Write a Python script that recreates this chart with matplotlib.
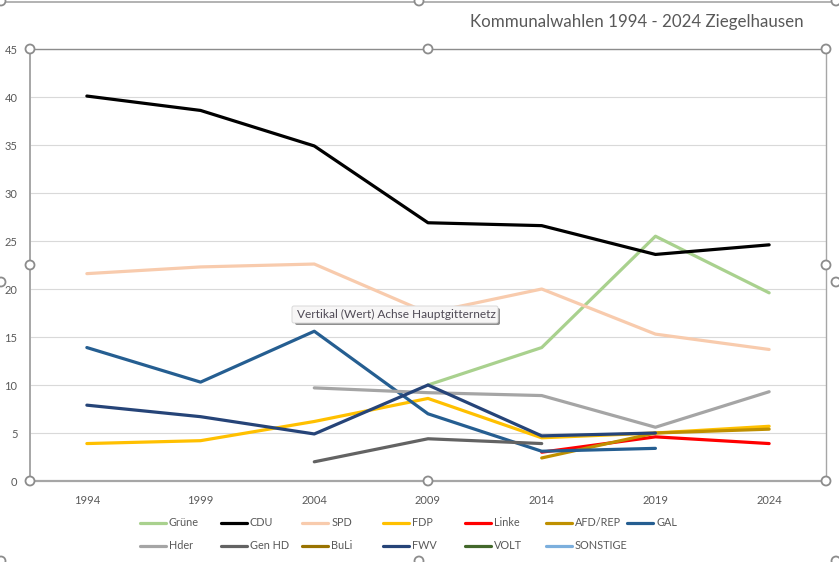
import numpy as np
import matplotlib
matplotlib.use("Agg")
import matplotlib.pyplot as plt
from matplotlib.patches import Circle, FancyBboxPatch

plt.rcParams['font.family'] = ['Lato', 'DejaVu Sans']

years = ["1994", "1999", "2004", "2009", "2014", "2019", "2024"]
n = np.nan

gruene = [n, n, n, 10.0, 13.9, 25.5, 19.6]
cdu = [40.1, 38.6, 34.9, 26.9, 26.6, 23.6, 24.6]
spd = [21.6, 22.3, 22.6, 17.5, 20.0, 15.3, 13.7]
fdp = [3.9, 4.2, 6.2, 8.6, 4.5, 5.0, 5.7]
linke = [n, n, n, n, 3.0, 4.6, 3.9]
afd = [n, n, n, n, 2.4, 5.0, 5.4]
gal = [13.9, 10.3, 15.6, 7.0, 3.1, 3.4, n]
hder = [n, n, 9.7, 9.2, 8.9, 5.6, 9.3]
gen_hd = [n, n, 2.0, 4.4, 3.9, n, n]
buli = [n, n, n, n, n, n, n]
fwv = [7.9, 6.7, 4.9, 10.0, 4.7, 5.0, n]
volt = [n, n, n, n, n, n, n]
sonstige = [n, n, n, n, n, n, n]

names = ["Grüne", "CDU", "SPD", "FDP", "Linke", "AFD/REP", "GAL",
         "Hder", "Gen HD", "BuLi", "FWV", "VOLT", "SONSTIGE"]
series = [gruene, cdu, spd, fdp, linke, afd, gal,
          hder, gen_hd, buli, fwv, volt, sonstige]
colors = ["#a9d18e", "#000000", "#f8cbad", "#ffc000", "#ff0000", "#bf9000", "#255e91",
          "#a5a5a5", "#636363", "#997300", "#264478", "#43682b", "#7cafdd"]

W, H = 839, 562
fig = plt.figure(figsize=(W / 100, H / 100), dpi=100)

# plot area in pixels: x 30-826, y 49-481
ax = fig.add_axes([30 / W, 1 - 481 / H, 796 / W, 432 / H])
x = np.arange(len(years))
for name, vals, c in zip(names, series, colors):
    ax.plot(x, vals, color=c, lw=2.3, label=name, solid_capstyle='round', solid_joinstyle='round')

ax.set_xlim(-0.5, 6.5)
ax.set_ylim(0, 45)
ax.set_xticks(x)
ax.set_xticklabels(years)
ax.set_yticks(range(0, 50, 5))
ax.tick_params(length=0, labelsize=8, labelcolor="#595959", pad=10)
ax.tick_params(axis='y', pad=9)
ax.grid(axis='y', color="#d9d9d9", lw=0.8)
ax.set_axisbelow(True)
for side in ax.spines:
    ax.spines[side].set_color("#a6a6a6")
    ax.spines[side].set_linewidth(1.0)
ax.spines['top'].set_color("#8c8c8c")
ax.spines['bottom'].set_linewidth(1.6)
ax.spines['left'].set_linewidth(1.4)

# overlay in pixel coordinates for title, legend and selection handles
ov = fig.add_axes([0, 0, 1, 1], facecolor='none')
ov.set_xlim(0, W)
ov.set_ylim(H, 0)
ov.axis('off')

ov.text(637, 22, "Kommunalwahlen 1994 - 2024 Ziegelhausen", fontsize=12.2, color="#595959",
        ha='center', va='center')

# legend, two rows of seven columns
for i, (name, c) in enumerate(zip(names, colors)):
    row, col = divmod(i, 7)
    lx = 139.5 + col * 81.3
    ly = 523 + row * 22.5
    ov.plot([lx, lx + 26], [ly, ly], color=c, lw=2.3, solid_capstyle='round')
    ov.text(lx + 29, ly, name, fontsize=7.8, color="#595959", ha='left', va='center')

# chart frame and selection handles
ov.plot([4, 835], [1.5, 1.5], color="#a6a6a6", lw=1.2, clip_on=False)
handles = [(30, 49), (428, 49), (826, 49), (30, 265), (826, 265), (30, 481), (428, 481), (826, 481),
           (1, 1), (419, 1), (836, 1), (1, 282), (836, 282), (1, 561), (419, 561), (836, 561)]
for hx, hy in handles:
    ov.add_patch(Circle((hx, hy), 4.5, fc='white', ec="#8c8c8c", lw=1.3, zorder=5))

# tooltip
ov.add_patch(FancyBboxPatch((295, 308), 205, 17, boxstyle="round,pad=0,rounding_size=2",
                            fc="#8f8f8f", ec='none', zorder=6))
ov.add_patch(FancyBboxPatch((292, 306), 206, 17, boxstyle="round,pad=0,rounding_size=2",
                            fc="#f7f6f6", ec="#d9d9d9", lw=0.7, zorder=7))
ov.text(297, 314.5, "Vertikal (Wert) Achse Hauptgitternetz", fontsize=8.6, color="#4f4a55",
        ha='left', va='center', zorder=8)

fig.savefig("out.png", dpi=100)
